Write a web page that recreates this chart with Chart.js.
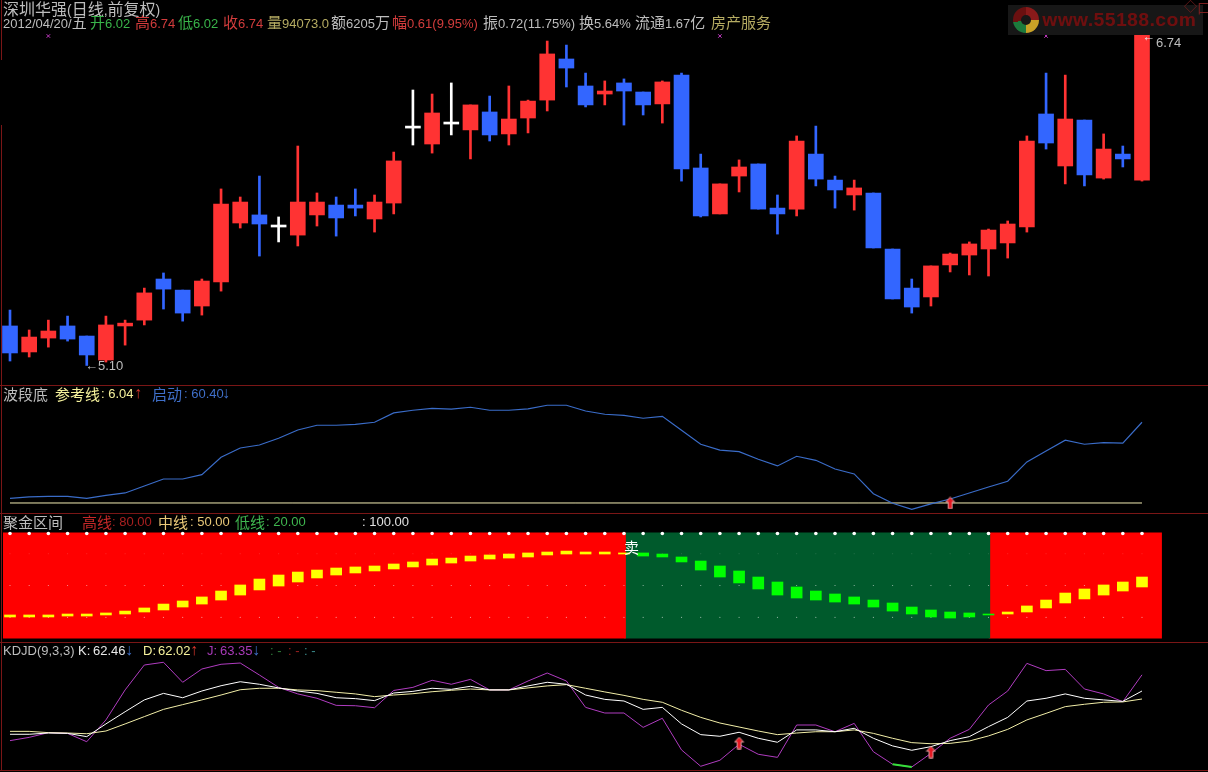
<!DOCTYPE html>
<html><head><meta charset="utf-8">
<script src="https://cdn.jsdelivr.net/npm/chart.js@4"></script>
<style>
html,body{margin:0;padding:0;background:#000;width:1208px;height:772px;overflow:hidden}
canvas{position:absolute;left:0;display:block}
.t{position:absolute;white-space:pre;line-height:16px;height:16px;font-family:"Liberation Sans","Noto Sans CJK SC",sans-serif;z-index:5}
.rule{position:absolute;background:#7a1616;z-index:4}
</style></head><body>
<script>
// ---------- Price panel ----------
const opens =[5.296,5.167,5.236,5.296,5.246,5.127,5.296,5.325,5.529,5.474,5.395,5.514,5.807,5.847,5.787,5.747,5.847,5.896,5.896,5.827,5.906,6.278,6.199,6.298,6.269,6.358,6.249,6.328,6.417,6.621,6.487,6.447,6.502,6.457,6.398,6.541,6.080,5.852,6.040,6.100,5.881,5.876,6.149,6.020,5.946,5.956,5.678,5.484,5.440,5.599,5.648,5.678,5.708,5.787,6.348,6.090,6.318,6.030,6.149,6.020];
const closes=[5.162,5.241,5.271,5.231,5.152,5.301,5.310,5.460,5.479,5.360,5.519,5.901,5.911,5.802,5.797,5.911,5.911,5.832,5.881,5.911,6.115,6.288,6.353,6.308,6.393,6.244,6.323,6.412,6.646,6.576,6.393,6.462,6.462,6.393,6.507,6.075,5.842,6.001,6.085,5.876,5.852,6.214,6.025,5.971,5.981,5.683,5.430,5.390,5.594,5.653,5.703,5.772,5.802,6.214,6.204,6.323,6.045,6.174,6.125,6.740];
const highs =[5.375,5.276,5.325,5.345,5.246,5.345,5.325,5.484,5.559,5.474,5.529,5.976,5.936,6.040,5.837,6.189,5.956,5.936,5.976,5.946,6.159,6.467,6.447,6.502,6.393,6.437,6.487,6.417,6.710,6.690,6.551,6.512,6.522,6.457,6.512,6.551,6.149,6.001,6.120,6.100,5.946,6.239,6.288,6.040,6.020,5.956,5.678,5.529,5.594,5.658,5.713,5.777,5.817,6.239,6.551,6.541,6.318,6.249,6.189,6.740];
const lows  =[5.122,5.142,5.191,5.221,5.100,5.117,5.201,5.301,5.380,5.320,5.350,5.469,5.782,5.643,5.713,5.693,5.792,5.742,5.842,5.762,5.852,6.194,6.154,6.244,6.125,6.214,6.194,6.254,6.363,6.482,6.383,6.393,6.293,6.343,6.303,6.015,5.837,5.852,5.961,5.876,5.752,5.842,5.991,5.881,5.871,5.683,5.430,5.360,5.395,5.564,5.549,5.544,5.633,5.762,6.174,6.001,5.991,6.025,6.085,6.015];
const dojiSessions=[14,21,23];
const crossSessions=[2,37,54];
const crossLevel=6.735;
// ---------- 波段底 ----------
const qidong=[9.2,10.1,10.55,10.55,9.2,11.2,12.8,17.5,22.2,22.2,25.1,36.8,43.1,45.1,49.6,55.2,58.4,58.4,59.05,60.4,66.7,68.5,69.8,69.2,70.5,68.5,68.5,69.4,71.85,71.85,68.0,65.8,65.1,63.1,64.4,55.0,45.6,41.7,40.6,35.5,31.0,37.5,34.8,28.9,25.6,12.3,5.84,1.8,5.4,8.7,12.8,16.8,20.7,33.7,41.1,48.3,45.6,46.7,46.3,60.4];
const refSessions=[0,59];
const refLine=[6.04,6.04];
// ---------- 聚金区间 ----------
const goldTop=[22.2,22.2,22.2,23.1,23.1,24.1,25.9,28.8,32.5,35.4,39.2,44.8,50.5,56.1,59.9,62.7,64.6,66.5,67.5,68.4,70.3,72.2,75.0,75.9,77.8,78.8,79.7,80.7,81.6,82.5,81.6,81.6,80.7,80.7,79.7,76.9,73.1,68.4,63.7,58.0,53.3,48.6,44.8,42.0,39.2,36.3,33.5,29.7,26.9,25.0,24.1,23.1,25.0,30.7,36.3,42.9,46.7,50.5,53.3,58.0];
const goldBottom=[20.3,20.3,20.3,21.2,21.2,22.2,23.1,25.0,26.9,29.7,32.5,36.3,41.0,45.8,49.5,53.3,57.1,59.9,61.8,63.7,65.6,67.5,69.3,71.2,73.1,75.0,75.9,76.9,78.8,79.7,79.7,79.7,79.7,77.8,76.9,72.2,64.6,58.0,52.4,46.7,41.0,38.2,36.3,34.4,32.5,29.7,25.9,23.1,20.3,19.3,20.3,22.2,23.1,25.0,28.8,33.5,37.3,41.0,44.8,48.6];
const zoneStart=[-0.365,32,51];
const zoneEnd=[32.1,51.1,60.04];
const zoneColor=['#ff0000','#005a2c','#ff0000'];
const greenFirst=33, greenLast=51;
const dotLevels=[80,50,20];
const topLevel=[99];
// ---------- KDJD ----------
const kLine=[60.08,60.08,60.15,60.13,59.95,60.65,61.32,61.97,62.33,62.09,62.46,62.75,62.97,62.83,62.63,62.46,62.33,62.09,62.04,61.93,62.35,62.44,62.61,62.55,62.72,62.52,62.52,62.74,62.94,62.83,62.24,62.00,61.91,61.45,61.56,60.65,60.06,59.97,60.19,59.86,59.64,60.32,60.32,60.22,60.41,59.86,59.44,59.20,59.40,59.73,59.95,60.50,61.01,61.91,62.06,62.30,62.06,61.97,61.89,62.46];
const dLine=[60.24,60.24,60.17,60.15,60.11,60.26,60.65,61.05,61.45,61.71,61.97,62.24,62.53,62.61,62.61,62.52,62.48,62.39,62.30,62.15,62.24,62.31,62.42,62.50,62.57,62.52,62.52,62.63,62.74,62.81,62.61,62.41,62.22,62.00,61.84,61.40,61.01,60.70,60.48,60.26,60.06,60.15,60.22,60.22,60.32,60.13,59.86,59.62,59.56,59.58,59.71,59.99,60.35,60.87,61.23,61.60,61.73,61.84,61.86,62.02];
const jLine=[59.73,59.91,60.17,60.13,59.67,60.87,62.52,63.89,64.04,62.94,63.67,63.93,64.00,63.34,62.66,62.30,62.06,61.67,61.65,61.54,62.49,62.66,63.05,62.83,63.10,62.52,62.52,63.01,63.45,63.01,61.56,61.25,61.25,60.46,60.96,59.22,58.32,58.65,59.53,58.98,58.81,60.59,60.59,60.22,60.68,59.12,58.43,58.28,59.03,59.86,60.35,61.69,62.46,63.98,63.58,63.65,62.57,62.30,61.87,63.35];
const jLowSessions=[46,47];
const jLowValues=[58.43,58.28];
const kdjArrowSessions=[38,48];
const kdjArrowValues=[59.6,59.1];
const bottomArrowSessions=[49];
const bottomArrowValues=[6.04];

// ---------- text ----------
const GRAY='#bdbdbd',GRN='#39b54a',RED='#d23c3c',KHK='#b5ab62',YEL='#f6f29c',BLU='#3f6fc9';
const texts=[
 ['深圳华强(日线,前复权)',3,8,GRAY,14],
 ['2012/04/20/五',3,22,GRAY],
 ['开6.02',90,22,GRN],['高6.74',135,22,RED],['低6.02',178,22,GRN],['收6.74',223,22,RED],
 ['量94073.0',267,22,KHK],['额6205万',331,22,GRAY],['幅0.61(9.95%)',392,22,RED],
 ['振0.72(11.75%)',483,22,GRAY],['换5.64%',579,22,GRAY],['流通1.67亿',635,22,GRAY],['房产服务',711,22,KHK],
 ['←5.10',85,366,GRAY],['←',1142,37,'#e6e6e6'],['6.74',1156,43,GRAY],
 ['波段底',3,394,GRAY],['参考线',55,394,YEL],[': 6.04',101,394,YEL],['↑',134,393,'#d8362c',16],
 ['启动',152,394,BLU],[': 60.40',184,394,BLU],['↓',222,393,BLU,16],
 ['聚金区间',3,522,GRAY],['高线',82,522,'#c62828'],[': 80.00',112,522,'#a82020'],
 ['中线',158,522,'#e8c878'],[': 50.00',190,522,'#e8c878'],
 ['低线',235,522,'#3fb64f'],[': 20.00',266,522,'#3fb64f'],[': 100.00',362,522,'#e0e0e0'],
 ['卖',624,547,'#ffffff'],
 ['KDJD(9,3,3)',3,651,GRAY],['K:',78,651,'#e8e8e8'],['62.46',93,651,'#e8e8e8'],['↓',125,650,BLU,16],
 ['D:',143,651,YEL],['62.02',158,651,YEL],['↑',190,650,'#d8362c',16],
 ['J:',207,651,'#a83ab8'],['63.35',220,651,'#a83ab8'],['↓',252,650,BLU,16],
 [': -',270,651,'#2f7d3a'],[': -',288,651,'#9a2020'],[': -',304,651,'#3a8a8a']
];
const rules=[[0,385,1208,1],[0,513,1208,1],[0,642,1208,1],[0,770,1208,1],[1,0,1,60],[1,125,1,645]];

// ---------- shared ----------
const sessions=opens.map((_,i)=>i);
const xMin=-0.521,xMax=62.44;
const UP='#ff3333',DOWN='#3366ff';
function pts(xs,ys){return xs.map((x,i)=>({x,y:ys[i]}));}
function panel(top,height,yMin,yMax,datasets){
  const c=document.createElement('canvas');
  c.width=1208;c.height=height;c.style.top=top+'px';c.style.width='1208px';c.style.height=height+'px';
  document.body.appendChild(c);
  return new Chart(c,{type:'bar',data:{datasets},options:{
    responsive:false,animation:false,devicePixelRatio:1,
    layout:{padding:0,autoPadding:false},
    plugins:{legend:{display:false},tooltip:{enabled:false},title:{display:false}},
    events:[],
    scales:{
      x:{type:'linear',min:xMin,max:xMax,offset:false,display:false},
      y:{type:'linear',min:yMin,max:yMax,display:false}
    }
  }});
}
function line(data,color,order,width){return {type:'line',data,borderColor:color,borderWidth:width||1,pointRadius:0,tension:0,fill:false,order};}
function marks(data,style,radius,color,order,bw){return {type:'line',data,showLine:false,pointStyle:style,pointRadius:radius,pointBorderColor:color,pointBackgroundColor:color,pointBorderWidth:bw==null?1:bw,order};}
function arrowGlyph(){
  const c=document.createElement('canvas');c.width=11;c.height=13;
  const g=c.getContext('2d');
  g.beginPath();g.moveTo(5.5,0.8);g.lineTo(10,5.6);g.lineTo(7.4,5.6);g.lineTo(7.4,12.2);g.lineTo(3.6,12.2);g.lineTo(3.6,5.6);g.lineTo(1,5.6);g.closePath();
  g.fillStyle='#e8141e';g.fill();g.strokeStyle='#e0a0a0';g.lineWidth=1;g.stroke();
  return c;
}
const arrow=arrowGlyph();
const candleColor=i=>dojiSessions.includes(i)?'#ffffff':(closes[i]>opens[i]?UP:DOWN);

// price
panel(0,385,5.0030,6.9137,[
  {data:sessions.map(i=>({x:i,y:[lows[i],highs[i]]})),backgroundColor:sessions.map(candleColor),barThickness:2,grouped:false,borderWidth:0,order:2},
  {data:sessions.map(i=>({x:i,y:[opens[i],closes[i]]})),backgroundColor:sessions.map(candleColor),barThickness:15,grouped:false,borderWidth:0,order:1},
  marks(crossSessions.map(x=>({x,y:crossLevel})),'crossRot',2.5,'#c23ac2',0)
]);
// band bottom
panel(385,129,-1.37,85.5,[
  line(pts(refSessions,refLine),'#f4eeb4',3),
  line(pts(sessions,qidong),'#3a6cc8',2,1.2),
  marks(pts(bottomArrowSessions,bottomArrowValues),arrow,6,'#e8141e',0)
]);
// gold zone
const dotSets=dotLevels.map((lv,k)=>marks(sessions.map(x=>({x,y:lv})),'circle',0.6,k===0?'rgba(255,255,255,.12)':'rgba(255,255,255,.6)',1,0));
panel(514,128,-3.3,117.45,[
  ...zoneStart.map((s,k)=>({type:'line',data:[{x:s,y:100},{x:zoneEnd[k],y:100}],borderWidth:0,pointRadius:0,backgroundColor:zoneColor[k],fill:{value:0},order:5})),
  ...dotSets,
  marks(sessions.flatMap(x=>topLevel.map(y=>({x,y}))),'circle',1.8,'#ffffff',1,0),
  {data:sessions.map(i=>({x:i,y:[goldBottom[i],goldTop[i]]})),backgroundColor:sessions.map(i=>(i>=greenFirst&&i<=greenLast)?'#00ff00':'#ffff00'),barThickness:11,grouped:false,borderWidth:0,order:0}
]);
// KDJ
panel(642,128,58.115,65.155,[
  line(pts(sessions,jLine),'#b03cc0',3),
  line(pts(sessions,dLine),'#f2eea8',2),
  line(pts(sessions,kLine),'#ffffff',1),
  line(pts(jLowSessions,jLowValues),'#35e03a',0.5,2),
  marks(pts(kdjArrowSessions,kdjArrowValues),arrow,6,'#e8141e',0)
]);

// text and rules
function put(txt,x,y,color,size){
  const d=document.createElement('div');d.className='t';
  d.style.left=x+'px';d.style.top=(y-8)+'px';d.style.color=color;d.style.fontSize=(size||13)+'px';
  d.innerHTML=txt.replace(/[\u4e00-\u9fff]+/g,m=>'<span style="font-size:'+((size||13)+2)+'px;font-family:\'Noto Sans CJK SC\'">'+m+'</span>');
  document.body.appendChild(d);
}
texts.forEach(t=>put(t[0],t[1],t[2],t[3],t[4]));
rules.forEach(r=>{const d=document.createElement('div');d.className='rule';d.style.cssText+=`left:${r[0]}px;top:${r[1]}px;width:${r[2]}px;height:${r[3]}px`;document.body.appendChild(d);});

// watermark
const wm=document.createElement('div');
wm.style.cssText='position:absolute;left:1008px;top:5px;width:195px;height:30px;background:#171717;z-index:3';
wm.innerHTML='<div style="position:absolute;left:5px;top:2px;width:26px;height:26px;border-radius:50%;background:conic-gradient(#8a1a1a 0 25%,#c9a227 25% 50%,#1c7a3c 50% 72%,#6a1010 72% 100%)"></div><div style="position:absolute;left:13px;top:10px;width:10px;height:10px;border-radius:50%;background:#171717"></div><div style="position:absolute;left:34px;top:3px;font:bold 19px/24px \'Liberation Sans\',sans-serif;color:#6e0e0e;letter-spacing:.6px;white-space:pre">www.55188.com</div>';
document.body.appendChild(wm);
put('◇',1184,7,'#7a1f1f',13);put('口',1197,7,'#7a1f1f',12);
</script>
</body></html>
